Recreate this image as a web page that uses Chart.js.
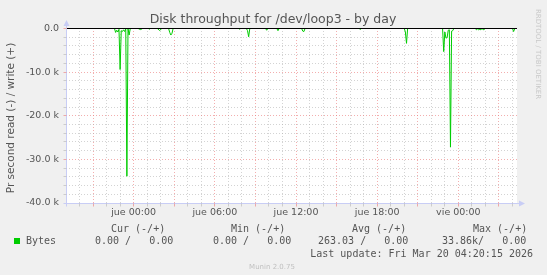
<!DOCTYPE html>
<html><head><meta charset="utf-8">
<script src="https://cdn.jsdelivr.net/npm/chart.js@4/dist/chart.umd.min.js"></script>
<style>html,body{margin:0;padding:0;background:#f0f0f0;overflow:hidden}canvas{display:block}</style>
</head><body>
<canvas id="c" width="547" height="275"></canvas>
<script>
// time in minutes relative to "jue 00:00"
const timesMin = [-300,-85,-80,-75,-70,-65,-60,-55,-50,-45,-40,-35,-30,-25,-20,-15,
  20,30,40,65,70,75,105,115,125,155,160,165,170,175,465,470,475,500,505,510,515,
  585,590,595,635,640,645,745,750,755,760,1000,1005,1010,1200,1205,1210,1215,
  1370,1375,1380,1385,1390,1395,1400,1405,1410,1415,1420,
  1515,1520,1525,1530,1535,1540,1545,1550,1555,1560,1680,1685,1690,1700];
// read bytes per second (negative = read)
const readBytes = [0,0,-900,-400,-800,-200,-9400,-500,-700,-300,-700,0,-33860,0,-1500,0,
  0,-250,0,0,-150,0,0,-450,0,0,-900,-1500,-1100,0,0,-150,0,0,-500,-1900,0,
  0,-400,0,0,-500,0,0,-600,-700,0,0,-200,0,0,-800,-3400,0,
  0,-5300,-800,-2200,-2100,-400,-300,-27200,-600,-500,0,
  0,-300,-100,-300,-200,-300,0,-300,-200,0,0,-700,0,0];
const xTickMinutes = [0,360,720,1080,1440];
const xTickLabels = ['jue 00:00','jue 06:00','jue 12:00','jue 18:00','vie 00:00'];
const yTickValues = [0,-10000,-20000,-30000,-40000];
const yTickLabels = ['0.0','-10.0 k','-20.0 k','-30.0 k','-40.0 k'];
const seriesName = 'Bytes';
const legendHeaders = ['Cur (-/+)','Min (-/+)','Avg (-/+)','Max (-/+)'];
const legendValues = ['0.00 /   0.00','0.00 /   0.00','263.03 /   0.00','33.86k/   0.00'];
const titleText = 'Disk throughput for /dev/loop3 - by day';
const yAxisTitle = 'Pr second read (-) / write (+)';
const lastUpdate = 'Last update: Fri Mar 20 04:20:15 2026';
const sideText = 'RRDTOOL / TOBI OETIKER';
const footText = 'Munin 2.0.75';

function txt(ctx, s, x, y, font, color, align, base, rot) {
  ctx.save();
  ctx.font = font; ctx.fillStyle = color;
  ctx.textAlign = align || 'left'; ctx.textBaseline = base || 'middle';
  ctx.translate(x, y);
  if (rot) ctx.rotate(rot);
  ctx.fillText(s, 0, 0);
  ctx.restore();
}

const MINOR = 'rgba(175,175,175,0.55)', MAJOR = 'rgba(235,120,120,0.6)';

const munin = {
  id: 'munin',
  beforeDraw(chart) {
    const {ctx, chartArea: a} = chart;
    ctx.save();
    ctx.fillStyle = '#f0f0f0'; ctx.fillRect(0, 0, chart.width, chart.height);
    ctx.fillStyle = '#ffffff'; ctx.fillRect(a.left, Math.floor(a.top), a.right - a.left, a.bottom - Math.floor(a.top));
    ctx.restore();
  },
  beforeDatasetsDraw(chart) {
    const {ctx, chartArea: a} = chart;
    const xs = chart.scales.x, ys = chart.scales.y;
    ctx.save();
    ctx.lineWidth = 1;
    ctx.setLineDash([1, 2]);
    for (let m = -240; m < 1700; m += 60) {
      const px = Math.floor(xs.getPixelForValue(m)) + 0.5;
      ctx.strokeStyle = (m % 180 === 0) ? MAJOR : MINOR;
      ctx.beginPath(); ctx.moveTo(px, Math.floor(a.top)); ctx.lineTo(px, a.bottom); ctx.stroke();
    }
    for (let v = -38000; v <= 0; v += 2000) {
      const py = Math.floor(ys.getPixelForValue(v)) + 0.5;
      ctx.strokeStyle = (v % 10000 === 0) ? MAJOR : MINOR;
      ctx.beginPath(); ctx.moveTo(a.left, py); ctx.lineTo(a.right, py); ctx.stroke();
    }
    ctx.restore();
  },
  afterDatasetsDraw(chart) {
    const {ctx, chartArea: a} = chart;
    const xs = chart.scales.x, ys = chart.scales.y;
    ctx.save();
    const y0 = Math.floor(ys.getPixelForValue(0)) + 0.5;
    ctx.strokeStyle = '#000'; ctx.lineWidth = 1;
    ctx.beginPath(); ctx.moveTo(a.left, y0); ctx.lineTo(a.right, y0); ctx.stroke();
    const axisCol = '#c8cdf5';
    const L = Math.floor(a.left) + 0.5, B = Math.floor(a.bottom) + 0.5;
    ctx.strokeStyle = axisCol; ctx.fillStyle = axisCol;
    ctx.beginPath(); ctx.moveTo(L, B + 3); ctx.lineTo(L, 24); ctx.stroke();
    ctx.beginPath(); ctx.moveTo(L - 3, B); ctx.lineTo(a.right + 2, B); ctx.stroke();
    ctx.beginPath(); ctx.moveTo(L - 3, 26); ctx.lineTo(L, 20); ctx.lineTo(L + 3, 26); ctx.closePath(); ctx.fill();
    ctx.beginPath(); ctx.moveTo(a.right + 2, B - 3); ctx.lineTo(a.right + 8, B); ctx.lineTo(a.right + 2, B + 3); ctx.closePath(); ctx.fill();
    for (let v = -38000; v <= 0; v += 2000) {
      const py = Math.floor(ys.getPixelForValue(v)) + 0.5;
      ctx.strokeStyle = (v % 10000 === 0) ? MAJOR : MINOR;
      ctx.beginPath(); ctx.moveTo(L - 3, py); ctx.lineTo(L, py); ctx.stroke();
    }
    for (let m = -240; m < 1700; m += 60) {
      const px = Math.floor(xs.getPixelForValue(m)) + 0.5;
      ctx.strokeStyle = (m % 180 === 0) ? MAJOR : MINOR;
      ctx.beginPath(); ctx.moveTo(px, B); ctx.lineTo(px, B + 3); ctx.stroke();
    }
    ctx.restore();

    const F = 'DejaVu Sans, sans-serif', M = 'DejaVu Sans Mono, monospace';
    txt(ctx, titleText, 273, 20, '12.5px ' + F, '#555', 'center');
    txt(ctx, yAxisTitle, 11, 118, '10.5px ' + F, '#555', 'center', 'middle', -Math.PI / 2);
    txt(ctx, sideText, 538, 54, '7px ' + F, '#c8c8c8', 'center', 'middle', Math.PI / 2);
    const hx = [111, 231, 352, 473];
    legendHeaders.forEach((h, i) => txt(ctx, h, hx[i], 229, '10px ' + M, '#555', 'left'));
    ctx.save(); ctx.fillStyle = '#00cc00'; ctx.fillRect(14, 238, 6, 6); ctx.restore();
    txt(ctx, seriesName, 26, 241, '10px ' + M, '#555', 'left');
    const vx = [95, 213, 318, 442];
    legendValues.forEach((v, i) => txt(ctx, v, vx[i], 241, '10px ' + M, '#555', 'left'));
    txt(ctx, lastUpdate, 533, 254, '10px ' + M, '#555', 'right');
    txt(ctx, footText, 272, 267, '7px ' + F, '#c0c0c0', 'center');
  }
};

new Chart(document.getElementById('c'), {
  type: 'line',
  data: {
    datasets: [{
      label: seriesName,
      data: timesMin.map((t, i) => ({x: t, y: readBytes[i]})),
      borderColor: '#00cc00', borderWidth: 1, pointRadius: 0, tension: 0, fill: false
    }]
  },
  options: {
    responsive: false, animation: false, events: [],
    plugins: {legend: {display: false}, tooltip: {enabled: false}, title: {display: false}},
    layout: {padding: {left: 0, top: 28.5, right: 30, bottom: 0}},
    scales: {
      x: {
        type: 'linear', min: -300, max: 1700,
        afterBuildTicks(s) { s.ticks = xTickMinutes.map(v => ({value: v})); },
        afterFit(s) { s.height = 72; },
        grid: {display: false, drawTicks: false}, border: {display: false},
        ticks: {
          callback: (v) => xTickLabels[xTickMinutes.indexOf(v)],
          font: {family: 'DejaVu Sans', size: 9.5}, color: '#555', padding: 4,
          maxRotation: 0, minRotation: 0, autoSkip: false
        }
      },
      y: {
        type: 'linear', min: -40000, max: 0,
        afterBuildTicks(s) { s.ticks = yTickValues.map(v => ({value: v})); },
        afterFit(s) { s.width = 66; },
        grid: {display: false, drawTicks: false}, border: {display: false},
        ticks: {
          callback: (v) => yTickLabels[yTickValues.indexOf(v)],
          font: {family: 'DejaVu Sans', size: 9.5}, color: '#555', padding: 7
        }
      }
    }
  },
  plugins: [munin]
});
</script>
</body></html>
